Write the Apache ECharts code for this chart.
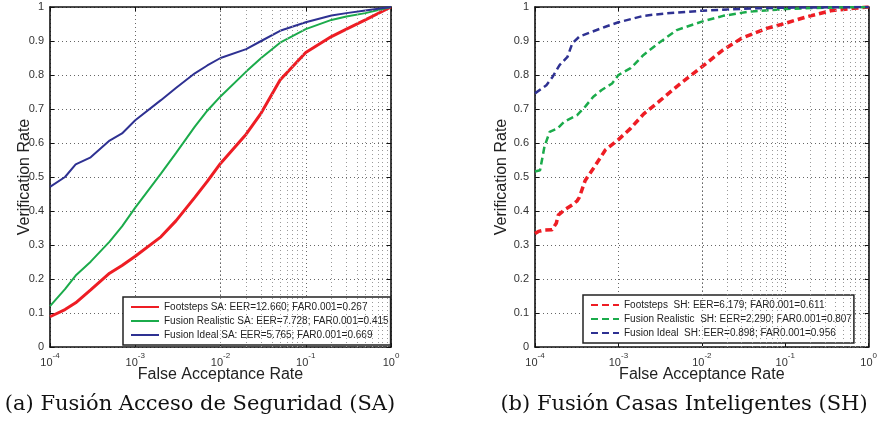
<!DOCTYPE html>
<html>
<head>
<meta charset="utf-8">
<script src="https://cdn.jsdelivr.net/npm/echarts@6/dist/echarts.min.js"></script>
<style>html,body{margin:0;padding:0;background:#fff}#c{width:880px;height:424px}</style>
</head>
<body>
<div id="c"></div>
<script>
// ---- data ----
const saX      = [1e-4,1.5e-4,2e-4,3e-4,5e-4,7e-4,1e-3,2e-3,3e-3,5e-3,7e-3,1e-2,2e-2,3e-2,5e-2,1e-1,2e-1,3e-1,5e-1,1];
const saFootY  = [0.089,0.11,0.13,0.168,0.217,0.24,0.267,0.324,0.371,0.44,0.487,0.54,0.626,0.688,0.785,0.866,0.913,0.935,0.962,1.0];
const saRealY  = [0.12,0.17,0.21,0.251,0.31,0.355,0.41,0.51,0.57,0.648,0.695,0.737,0.81,0.85,0.895,0.935,0.962,0.972,0.982,1.0];
const saIdealY = [0.471,0.50,0.537,0.558,0.607,0.628,0.667,0.726,0.762,0.805,0.828,0.85,0.876,0.90,0.93,0.955,0.975,0.982,0.99,1.0];

const shFootX  = [1e-4,1.1e-4,1.3e-4,1.6e-4,1.8e-4,1.9e-4,2.25e-4,2.8e-4,3.2e-4,3.4e-4,4e-4,5e-4,7e-4,1e-3,1.4e-3,2e-3,3e-3,5e-3,1e-2,1.8e-2,3e-2,6e-2,1e-1,1.8e-1,3.5e-1,6.6e-1,1];
const shFootY  = [0.334,0.34,0.344,0.345,0.364,0.388,0.403,0.418,0.43,0.44,0.49,0.525,0.58,0.61,0.643,0.685,0.72,0.766,0.824,0.874,0.908,0.937,0.952,0.971,0.989,0.996,1.0];
const shRealX  = [1e-4,1.15e-4,1.3e-4,1.5e-4,1.87e-4,2.25e-4,3.2e-4,4e-4,5e-4,6.3e-4,8.4e-4,1e-3,1.4e-3,2e-3,3e-3,5e-3,1e-2,1.8e-2,3.6e-2,1e-1,3e-1,1];
const shRealY  = [0.516,0.52,0.59,0.633,0.643,0.663,0.682,0.707,0.736,0.756,0.775,0.80,0.82,0.859,0.893,0.932,0.957,0.974,0.986,0.994,0.998,1.0];
const shIdealX = [1e-4,1.37e-4,1.63e-4,1.97e-4,2.45e-4,2.8e-4,3.4e-4,4.8e-4,7e-4,1e-3,2e-3,3.6e-3,1e-2,4.4e-2,1e-1,1];
const shIdealY = [0.746,0.77,0.795,0.829,0.853,0.893,0.913,0.927,0.942,0.955,0.974,0.981,0.989,0.996,0.998,1.0];

const saNames = ['Footsteps SA: EER=12.660; FAR0.001=0.267','Fusion Realistic SA: EER=7.728; FAR0.001=0.415','Fusion Ideal SA: EER=5.765; FAR0.001=0.669'];
const shNames = ['Footsteps  SH: EER=6.179; FAR0.001=0.611','Fusion Realistic  SH: EER=2.290; FAR0.001=0.807','Fusion Ideal  SH: EER=0.898; FAR0.001=0.956'];
const captions = ['(a) Fusión Acceso de Seguridad (SA)','(b) Fusión Casas Inteligentes (SH)'];
const xTitle = 'False Acceptance Rate';
const yTitle = 'Verification Rate';
const xDecades = [-4,-3,-2,-1,0];
const minorMult = [2,3,4,5,6,7,8,9];

// ---- styling helpers ----
const RED='#ee1d24', GREEN='#1bab4b', BLUE='#2e3192';
const SANS='Liberation Sans, Arial, sans-serif';
function pairs(xs,ys){return xs.map((x,i)=>[x,ys[i]]);}
const minorVals=[];
xDecades.slice(0,-1).forEach(e=>minorMult.forEach(m=>minorVals.push(m*Math.pow(10,e))));

const gridsPos=[{left:50,top:7,width:341,height:340},{left:535,top:7,width:339,height:340}];
const yNameGaps=[17,25];
const xAxis=[], yAxis=[];
gridsPos.forEach((g,gi)=>{
  xAxis.push({type:'log',logBase:10,gridIndex:gi,min:1e-4,max:1,position:'bottom',
    name:xTitle,nameLocation:'middle',nameGap:20,nameMoveOverlap:false,
    nameTextStyle:{fontFamily:SANS,fontSize:16,color:'#222',verticalAlign:'top'},
    axisLine:{show:true,onZero:false,lineStyle:{color:'#111',width:1.6}},
    axisTick:{show:true,inside:true,length:4,lineStyle:{color:'#111'}},
    axisLabel:{margin:5,formatter:v=>'{b|10}{s|'+Math.round(Math.log10(v))+'}',
      rich:{b:{fontFamily:SANS,fontSize:11,color:'#333',verticalAlign:'bottom',lineHeight:16},
            s:{fontFamily:SANS,fontSize:8,color:'#333',verticalAlign:'top',lineHeight:16}}},
    splitLine:{show:true,lineStyle:{type:[1,3],color:'#666',width:1}}});
  xAxis.push({type:'log',logBase:10,gridIndex:gi,min:1e-4,max:1,position:'top',
    axisLine:{show:true,onZero:false,lineStyle:{color:'#111',width:1.6}},
    axisTick:{show:true,inside:true,length:4,lineStyle:{color:'#111'}},
    axisLabel:{show:false},splitLine:{show:false}});
  yAxis.push({type:'value',gridIndex:gi,min:0,max:1,interval:0.1,position:'left',
    name:yTitle,nameLocation:'middle',nameGap:yNameGaps[gi],nameMoveOverlap:false,
    nameTextStyle:{fontFamily:SANS,fontSize:16,color:'#222'},
    axisLine:{show:true,onZero:false,lineStyle:{color:'#111',width:1.6}},
    axisTick:{show:true,inside:true,length:4,lineStyle:{color:'#111'}},
    axisLabel:{fontFamily:SANS,fontSize:11,color:'#333',margin:6},
    splitLine:{show:true,lineStyle:{type:[1,3],color:'#666',width:1}}});
  yAxis.push({type:'value',gridIndex:gi,min:0,max:1,interval:0.1,position:'right',
    axisLine:{show:true,onZero:false,lineStyle:{color:'#111',width:1.6}},
    axisTick:{show:true,inside:true,length:4,lineStyle:{color:'#111'}},
    axisLabel:{show:false},splitLine:{show:false}});
});

function gridSeries(gi){
  return {type:'line',xAxisIndex:gi*2,yAxisIndex:gi*2,data:[],silent:true,z:1,
    markLine:{silent:true,symbol:['none','none'],label:{show:false},animation:false,
      lineStyle:{type:[1,3],color:'#999',width:1},
      data:minorVals.map(v=>({xAxis:v}))}};
}
function ser(name,gi,xs,ys,color,width,dashed){
  return {name,type:'line',xAxisIndex:gi*2,yAxisIndex:gi*2,data:pairs(xs,ys),
    symbol:'none',showSymbol:false,smooth:false,z:3,animation:false,
    lineStyle:{color,width,type:dashed?[7,4]:'solid'},itemStyle:{color}};
}
const series=[
  gridSeries(0),gridSeries(1),
  ser(saNames[0],0,saX,saFootY,RED,3,false),
  ser(saNames[1],0,saX,saRealY,GREEN,2,false),
  ser(saNames[2],0,saX,saIdealY,BLUE,2,false),
  ser(shNames[0],1,shFootX,shFootY,RED,3.5,true),
  ser(shNames[1],1,shRealX,shRealY,GREEN,2.5,true),
  ser(shNames[2],1,shIdealX,shIdealY,BLUE,2.5,true)
];
function legend(names,left,top){
  return {data:names,left,top,orient:'vertical',itemWidth:28,itemHeight:10,itemGap:4,
    padding:[5,2,5,7],backgroundColor:'#fff',borderColor:'#222',borderWidth:1.5,
    selectedMode:false,itemStyle:{opacity:0,borderWidth:0},
    textStyle:{fontFamily:SANS,fontSize:10,color:'#222'}};
}
const chart=echarts.init(document.getElementById('c'),null,{renderer:'canvas'});
chart.setOption({
  animation:false,
  grid:gridsPos,
  xAxis,yAxis,series,
  legend:[legend(saNames,123,297),legend(shNames,583,295)],
  graphic:[
    {type:'text',x:200,y:405,style:{text:captions[0],textAlign:'center',textVerticalAlign:'middle',font:'21px "DejaVu Serif", serif',fill:'#111'}},
    {type:'text',x:684,y:405,style:{text:captions[1],textAlign:'center',textVerticalAlign:'middle',font:'21px "DejaVu Serif", serif',fill:'#111'}}
  ]
});
</script>
</body>
</html>
